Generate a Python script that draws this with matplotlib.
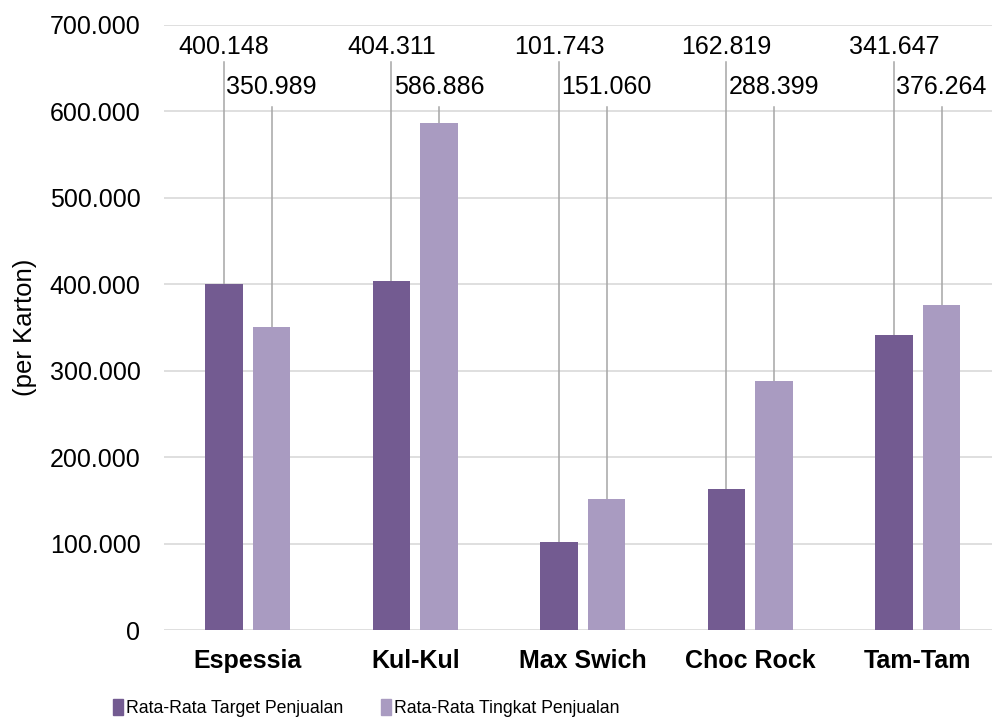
import matplotlib
matplotlib.use("Agg")
import matplotlib.pyplot as plt
from matplotlib.patches import Patch
from matplotlib.ticker import FuncFormatter
from matplotlib import font_manager
import numpy as np

plt.rcParams["font.family"] = ["Liberation Sans", "DejaVu Sans"]

# ------------------------------------------------------------
# Data
# ------------------------------------------------------------
produk = ["Espessia", "Kul-Kul", "Max Swich", "Choc Rock", "Tam-Tam"]
target = [400148, 404311, 101743, 162819, 341647]
tingkat = [350989, 586886, 151060, 288399, 376264]
y_ticks = [0, 100000, 200000, 300000, 400000, 500000, 600000, 700000]

warna_target = "#735b91"
warna_tingkat = "#a99bc1"
warna_garis = "#a6a6a6"

# huruf sempit untuk legenda jika tersedia
nama_font = {f.name for f in font_manager.fontManager.ttflist}
narrow = "Liberation Sans Narrow" in nama_font


def fmt_titik(v, pos=None):
    return f"{int(round(v)):,}".replace(",", ".")


fig = plt.figure(figsize=(9.92, 7.27), dpi=100)
ax = fig.add_axes([164 / 992, 97 / 727, 828 / 992, 605 / 727])

x = np.arange(len(produk))
lebar = 0.222
offset = 0.142

ax.bar(x - offset, target, lebar, color=warna_target, zorder=3)
ax.bar(x + offset, tingkat, lebar, color=warna_tingkat, zorder=3)

ymax = 700000
ax.set_ylim(0, ymax)
ax.set_xlim(-0.5, -0.5 + 828 / 167.5)


def px_to_val(p):
    return (630 - p) / 605 * ymax


# label data dengan garis penunjuk
for xi, v in zip(x - offset, target):
    ax.plot([xi, xi], [v, px_to_val(62)], color=warna_garis, lw=1.1, zorder=2)
    ax.text(xi, px_to_val(47), fmt_titik(v), ha="center", va="center",
            fontsize=18, color="#000000")
for xi, v in zip(x + offset, tingkat):
    ax.plot([xi, xi], [v, px_to_val(107)], color=warna_garis, lw=1.1, zorder=2)
    ax.text(xi, px_to_val(87), fmt_titik(v), ha="center", va="center",
            fontsize=18, color="#000000")

ax.set_yticks(y_ticks)
ax.yaxis.set_major_formatter(FuncFormatter(fmt_titik))
ax.set_xticks(x)
ax.set_xticklabels(produk, fontweight="bold")
ax.tick_params(axis="y", length=0, pad=17, labelsize=18)
ax.tick_params(axis="x", length=0, pad=14, labelsize=18)
ax.grid(axis="y", color="#d9d9d9", lw=1.2, zorder=0)
for s in ax.spines.values():
    s.set_visible(False)

ax.set_ylabel("(per Karton)", fontsize=18.5)
ax.yaxis.set_label_coords(-127 / 828, 0.5)

handles = [Patch(color=warna_target, label="Rata-Rata Target Penjualan"),
           Patch(color=warna_tingkat, label="Rata-Rata Tingkat Penjualan")]
if narrow:
    prop = {"family": "Liberation Sans Narrow", "size": 15.3}
    hl, hh, tp, cs = 0.47, 0.85, 0.14, 1.8
else:
    prop = {"family": "Liberation Sans", "size": 12.7}
    hl, hh, tp, cs = 0.57, 1.0, 0.17, 2.15
fig.legend(handles=handles, loc="center", bbox_to_anchor=(366 / 992, 1 - 708 / 727),
           ncol=2, frameon=False, prop=prop, handlelength=hl, handleheight=hh,
           handletextpad=tp, columnspacing=cs, borderpad=0, borderaxespad=0)

fig.savefig("out.png", dpi=100)
